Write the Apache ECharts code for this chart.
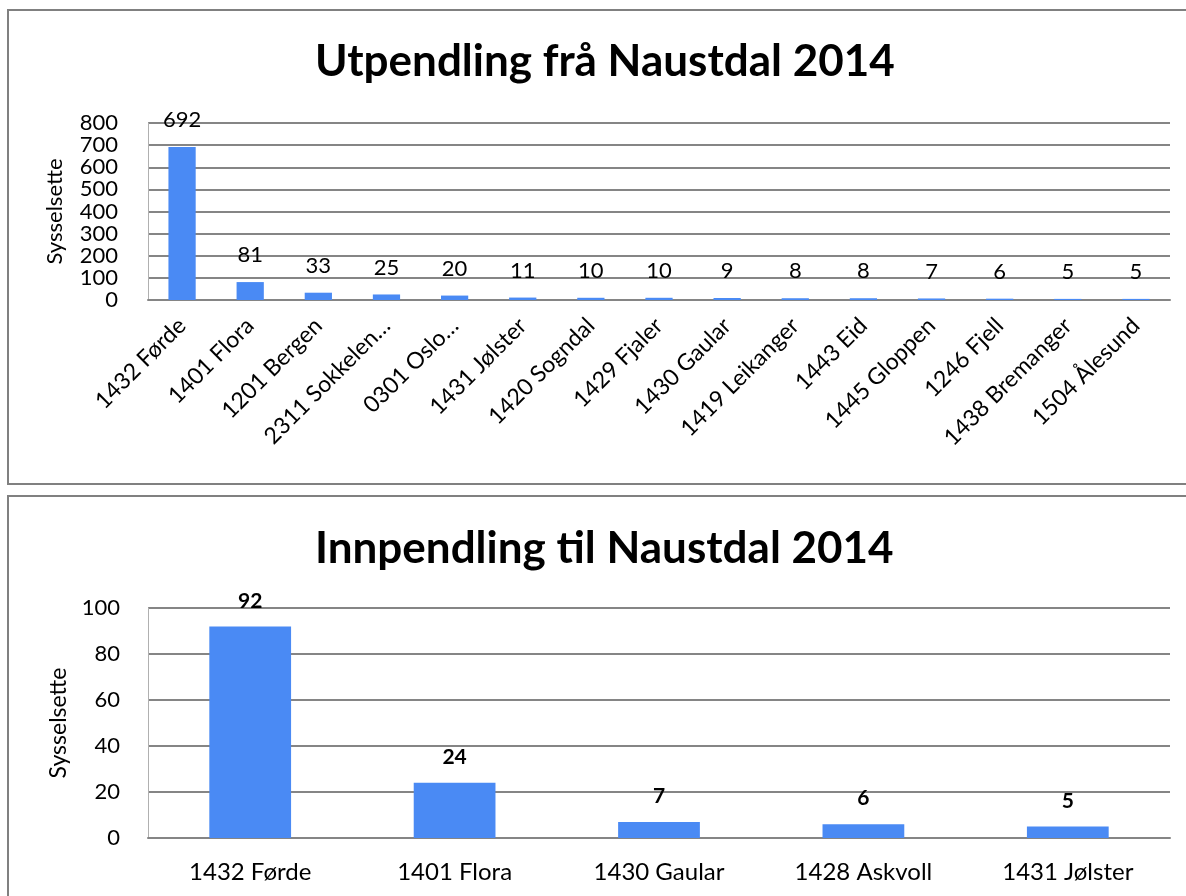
<!DOCTYPE html>
<html>
<head>
<meta charset="utf-8">
<script src="https://cdn.jsdelivr.net/npm/echarts@6/dist/echarts.min.js"></script>
<style>
html,body{margin:0;padding:0;background:#fff;}
#c{width:1186px;height:896px;}
</style>
</head>
<body>
<div id="c"></div>
<script>
var titleTop = 'Utpendling frå Naustdal 2014';
var titleBottom = 'Innpendling til Naustdal 2014';
var yName = 'Sysselsette';
var catsOut = ['1432 Førde','1401 Flora','1201 Bergen','2311 Sokkelen…','0301 Oslo…','1431 Jølster','1420 Sogndal','1429 Fjaler','1430 Gaular','1419 Leikanger','1443 Eid','1445 Gloppen','1246 Fjell','1438 Bremanger','1504 Ålesund'];
var valsOut = [692,81,33,25,20,11,10,10,9,8,8,7,6,5,5];
var catsIn = ['1432 Førde','1401 Flora','1430 Gaular','1428 Askvoll','1431 Jølster'];
var valsIn = [92,24,7,6,5];

var FONT = 'Lato';
var BLUE = '#4a8af4';
var GRID = '#858585';

var chart = echarts.init(document.getElementById('c'), null, {renderer:'canvas'});
chart.setOption({
  backgroundColor:'#fff',
  animation:false,
  textStyle:{fontFamily:FONT},
  graphic:[
    {type:'rect', shape:{x:8,y:10,width:1200,height:474}, style:{fill:'none', stroke:'#808080', lineWidth:2}},
    {type:'rect', shape:{x:8,y:496,width:1200,height:420}, style:{fill:'none', stroke:'#808080', lineWidth:2}}
  ],
  title:[
    {text:titleTop, left:310, top:35, textStyle:{fontFamily:FONT, fontSize:44, fontWeight:'bold', color:'#000'}},
    {text:titleBottom, left:310, top:522, textStyle:{fontFamily:FONT, fontSize:44, fontWeight:'bold', color:'#000'}}
  ],
  grid:[
    {left:148, right:16, top:123, height:177},
    {left:148, right:16, top:608, height:230}
  ],
  xAxis:[
    {type:'category', gridIndex:0, data:catsOut,
     axisLine:{show:true, lineStyle:{color:GRID, width:2}},
     axisTick:{show:false},
     axisLabel:{rotate:45, interval:0, margin:22, padding:[21,0,0,0], fontFamily:FONT, fontSize:23, color:'#000'}},
    {type:'category', gridIndex:1, data:catsIn,
     axisLine:{show:true, lineStyle:{color:GRID, width:2}},
     axisTick:{show:false},
     axisLabel:{interval:0, margin:22, fontFamily:FONT, fontSize:24, color:'#000'}}
  ],
  yAxis:[
    {type:'value', gridIndex:0, min:0, max:800, interval:100,
     name:yName, nameLocation:'middle', nameGap:82,
     nameTextStyle:{fontFamily:FONT, fontSize:22, color:'#000'},
     axisLine:{show:true, lineStyle:{color:'#b0b0b0', width:1}},
     axisTick:{show:false},
     splitLine:{lineStyle:{color:GRID, width:2}},
     axisLabel:{margin:30, fontFamily:FONT, fontSize:22, color:'#000'}},
    {type:'value', gridIndex:1, min:0, max:100, interval:20,
     name:yName, nameLocation:'middle', nameGap:78,
     nameTextStyle:{fontFamily:FONT, fontSize:23, color:'#000'},
     axisLine:{show:true, lineStyle:{color:'#b0b0b0', width:1}},
     axisTick:{show:false},
     splitLine:{lineStyle:{color:GRID, width:2}},
     axisLabel:{margin:28, fontFamily:FONT, fontSize:22, color:'#000'}}
  ],
  series:[
    {type:'bar', xAxisIndex:0, yAxisIndex:0, data:valsOut, barWidth:'40%',
     itemStyle:{color:BLUE},
     label:{show:true, position:'top', distance:16, fontFamily:FONT, fontSize:22, color:'#000'}},
    {type:'bar', xAxisIndex:1, yAxisIndex:1, data:valsIn, barWidth:'40%',
     itemStyle:{color:BLUE},
     label:{show:true, position:'top', distance:15, fontFamily:FONT, fontSize:21, fontWeight:'bold', color:'#000'}}
  ]
});
</script>
</body>
</html>
